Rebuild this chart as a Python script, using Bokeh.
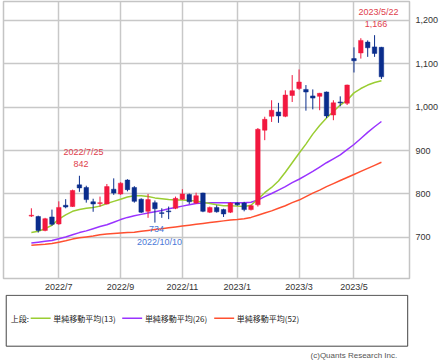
from bokeh.plotting import figure
from bokeh.layouts import column
from bokeh.models import Range1d, FixedTicker, NumeralTickFormatter, ColumnDataSource
from bokeh.core.properties import value
from bokeh.embed import file_html
from bokeh.resources import INLINE

# ---- weekly OHLC (2022/6/6 .. 2023/5/29), index 0..51 ----
opens  = [749, 748, 716, 747, 731, 774, 771, 821, 815, 782, 778, 777, 811, 800, 832, 815, 788, 760,
          780, 757, 761, 767, 788, 799, 779, 802, 758, 769, 764, 758, 779, 779, 764, 775, 947, 979,
          989, 979, 1027, 1043, 1041, 1026, 1025, 1035, 982, 1012, 1009, 1112, 1125, 1150, 1139, 1138]
highs  = [767, 750, 745, 764, 783, 788, 810, 842, 819, 789, 794, 823, 836, 827, 834, 818, 790, 800,
          785, 767, 771, 794, 811, 801, 803, 803, 771, 774, 766, 781, 781, 782, 775, 952, 978, 1016,
          1010, 1039, 1074, 1087, 1051, 1041, 1033, 1036, 1016, 1025, 1052, 1138, 1159, 1154, 1166, 1139]
lows   = [747, 711, 714, 727, 729, 767, 770, 805, 780, 759, 771, 776, 798, 798, 806, 780, 756, 745,
          734, 745, 742, 765, 786, 777, 777, 758, 756, 757, 747, 756, 773, 760, 762, 771, 924, 966,
          964, 977, 1012, 1040, 992, 995, 993, 975, 970, 1002, 1005, 1080, 1112, 1116, 1116, 1065]
closes = [751, 716, 743, 730, 769, 770, 808, 814, 787, 777, 780, 817, 802, 825, 810, 783, 758, 787,
          766, 755, 759, 790, 800, 782, 796, 760, 769, 759, 754, 779, 775, 764, 773, 949, 972, 993,
          980, 1028, 1038, 1058, 1035, 1021, 1032, 980, 1010, 1010, 1051, 1107, 1154, 1137, 1124, 1070]

# ---- simple moving averages ----
ma13 = [711, 714, 720, 728, 742, 752, 760, 764, 767, 769, 772, 778, 783, 788, 793, 796, 796, 794,
        791, 789, 787, 786, 786, 785, 784, 781, 778, 775, 773, 773, 772, 771, 774, 788, 803, 815,
        830, 850, 872, 894, 915, 938, 958, 975, 990, 1005, 1016, 1033, 1043, 1051, 1057, 1061]
ma26 = [687, 689, 691, 693, 697, 701, 706, 711, 715, 720, 725, 729, 735, 741, 746, 750, 753, 756,
        759, 762, 766, 769, 772, 775, 778, 779, 780, 780, 780, 780, 780, 780, 781, 786, 794, 801,
        809, 817, 826, 834, 843, 852, 862, 872, 881, 890, 902, 914, 928, 942, 955, 967]
ma52 = [682, 683, 684, 686, 689, 692, 696, 699, 701, 703, 706, 708, 709, 710, 711, 712, 714, 716,
        718, 720, 722, 724, 726, 728, 730, 732, 734, 736, 738, 740, 741, 743, 746, 751, 756, 761,
        767, 773, 780, 786, 794, 802, 809, 817, 824, 831, 838, 845, 852, 859, 866, 873]

tick_idx = [4, 13, 22, 30, 39, 47]
tick_labels = ["2022/7", "2022/9", "2022/11", "2023/1", "2023/3", "2023/5"]
y_ticks = [700, 800, 900, 1000, 1100, 1200]

ann_idx = [7, 50]
ann_dates_hi = ["2022/7/25", "2023/5/22"]
ann_idx_lo = [18]
ann_dates_lo = ["2022/10/10"]

ma_labels = ["単純移動平均(13)", "単純移動平均(26)", "単純移動平均(52)"]
ma_colors = ["#9ACD32", "#9933FF", "#FF5030"]
UP, DOWN = "#F2183F", "#0A2D8C"
FONT = "Liberation Sans"

idx = list(range(len(opens)))
colors = [UP if c >= o else DOWN for o, c in zip(opens, closes)]
src = ColumnDataSource(dict(x=idx, o=opens, h=highs, l=lows, c=closes,
                            top=[max(o, c) for o, c in zip(opens, closes)],
                            bot=[min(o, c) for o, c in zip(opens, closes)],
                            col=colors))

p = figure(width=448, height=294, output_backend="svg", toolbar_location=None,
           x_range=Range1d(-4.06, 55.09), y_range=Range1d(605.2, 1243.6),
           y_axis_location="right", min_border_left=3, min_border_right=39,
           min_border_top=1, min_border_bottom=15)
p.outline_line_color = "#C4C4C4"
p.outline_line_width = 1.5
p.background_fill_color = "white"
p.border_fill_color = "white"

for ax in (p.xaxis[0], p.yaxis[0]):
    ax.axis_line_color = None
    ax.major_tick_line_color = None
    ax.minor_tick_line_color = None
    ax.major_tick_out = 0
    ax.major_tick_in = 0
    ax.major_label_text_font = FONT
    ax.major_label_text_font_size = "9px"
    ax.major_label_text_color = "#333333"
p.xaxis.ticker = FixedTicker(ticks=tick_idx)
p.xaxis.major_label_overrides = {t: s for t, s in zip(tick_idx, tick_labels)}
p.xaxis.major_label_standoff = 3
p.yaxis.ticker = FixedTicker(ticks=y_ticks)
p.yaxis.formatter = NumeralTickFormatter(format="0,0")
p.yaxis.major_label_standoff = 6
for g in (p.xgrid[0], p.ygrid[0]):
    g.grid_line_color = "#C8C8C8"
    g.grid_line_width = 1.5

# moving averages
for ma, col in zip([ma52, ma26, ma13], [ma_colors[2], ma_colors[1], ma_colors[0]]):
    p.line(idx, ma, line_color=col, line_width=1.5)

# candles
p.segment(x0="x", y0="h", x1="x", y1="l", source=src, line_color="col", line_width=1)
p.vbar(x="x", width=0.66, top="top", bottom="bot", source=src,
       fill_color="col", line_color="col", line_width=0.5)

# annotations (high / low markers)
hx = ann_idx
hy = [highs[i] for i in hx]
p.text(x=hx, y=hy, text=[f"{v:,}" for v in hy], x_offset=1.5, y_offset=-11.5,
       text_align="center", text_baseline="middle", text_color="#E0404C",
       text_font=value(FONT), text_font_size="9px")
p.text(x=hx, y=hy, text=ann_dates_hi, x_offset=4, y_offset=-23.3,
       text_align="center", text_baseline="middle", text_color="#E0404C",
       text_font=value(FONT), text_font_size="9px")
lx = ann_idx_lo
ly = [lows[i] for i in lx]
p.text(x=lx, y=ly, text=[f"{v:,}" for v in ly], x_offset=1.5, y_offset=6.5,
       text_align="center", text_baseline="middle", text_color="#4A78D8",
       text_font=value(FONT), text_font_size="9px")
p.text(x=lx, y=ly, text=ann_dates_lo, x_offset=4.5, y_offset=19.6,
       text_align="center", text_baseline="middle", text_color="#4A78D8",
       text_font=value(FONT), text_font_size="9px")

# ---- legend strip ----
q = figure(width=448, height=67, output_backend="svg", toolbar_location=None,
           x_range=Range1d(0, 448), y_range=Range1d(67, 0),
           x_axis_location=None, y_axis_location=None,
           min_border_left=0, min_border_right=0, min_border_top=0, min_border_bottom=0)
q.grid.visible = False
q.outline_line_color = None
q.quad(left=[3], right=[446], top=[0.8], bottom=[51.7], fill_color=None,
       line_color="#444444", line_width=1)
q.text(x=[8], y=[23.7], text=["上段:"], text_baseline="middle", text_color="#222222",
       text_font=value("Noto Sans CJK JP"), text_font_size="8px")
seg_x0 = [30, 131, 232.5]
q.segment(x0=seg_x0, y0=[23.7] * 3, x1=[x + 22 for x in seg_x0], y1=[23.7] * 3,
          line_color=ma_colors, line_width=1.5)
q.text(x=[x + 25 for x in seg_x0], y=[23.7] * 3, text=ma_labels, text_baseline="middle",
       text_color="#222222", text_font=value("Noto Sans CJK JP"), text_font_size="8px")
q.text(x=[434.5], y=[61], text=["(c)Quants Research Inc."], text_align="right",
       text_baseline="middle", text_color="#555555", text_font=value(FONT),
       text_font_size="8px")

layout = column(p, q, spacing=0)
html = file_html(layout, INLINE)
html = html.replace("<head>", "<head><style>html,body{margin:0;padding:0;overflow:hidden}</style>", 1)
open("out.html", "w").write(html)
